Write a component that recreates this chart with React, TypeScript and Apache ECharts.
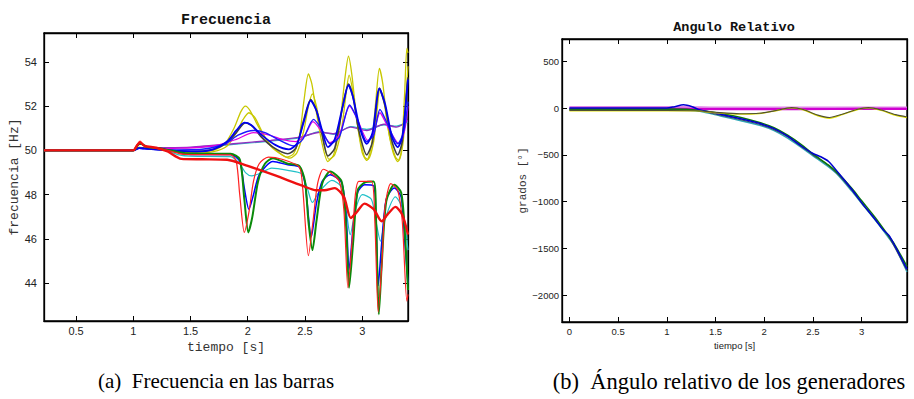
import React, { useEffect, useRef } from "react";
import * as echarts from "echarts";

// ---------- Left plot: frequency [Hz] vs time [s] ----------
const freqTicksX = [0.5, 1, 1.5, 2, 2.5, 3];
const freqTicksY = [44, 46, 48, 50, 52, 54];

const freqYellowA = [[0.22,50],[1.0,50],[1.05,50.15],[1.1,50.1],[1.3,50.02],[1.5,49.92],[1.7,50.0],[1.8,50.3],[1.88,51.0],[1.94,51.75],[1.98,52.0],[2.02,51.8],[2.08,51.2],[2.16,50.5],[2.25,50.0],[2.34,49.7],[2.4,49.85],[2.45,50.6],[2.49,52.2],[2.53,53.45],[2.56,53.0],[2.6,51.7],[2.65,50.3],[2.7,49.5],[2.75,49.8],[2.8,51.0],[2.85,53.3],[2.88,54.25],[2.91,53.4],[2.95,51.5],[3.0,49.9],[3.04,49.55],[3.08,50.2],[3.12,52.3],[3.15,53.7],[3.18,53.0],[3.22,51.2],[3.27,49.9],[3.31,49.5],[3.34,49.9],[3.37,52.5],[3.39,54.6],[3.4,54.4]];
const freqYellowB = [[0.22,50],[1.0,50],[1.05,50.12],[1.1,50.1],[1.3,50.0],[1.5,49.88],[1.7,49.95],[1.82,50.2],[1.9,50.8],[1.96,51.4],[2.01,51.7],[2.06,51.5],[2.12,50.9],[2.2,50.2],[2.3,49.8],[2.37,49.65],[2.43,49.9],[2.49,50.9],[2.53,52.0],[2.565,52.55],[2.6,52.0],[2.65,50.7],[2.71,49.6],[2.76,49.8],[2.82,51.0],[2.86,52.6],[2.885,53.4],[2.92,52.6],[2.97,50.8],[3.02,49.7],[3.05,49.6],[3.1,50.4],[3.13,51.8],[3.155,52.8],[3.19,52.2],[3.24,50.6],[3.29,49.7],[3.32,49.55],[3.36,50.5],[3.39,53.0],[3.4,53.8]];
const freqGray = [[0.22,50],[1.0,50],[1.05,50.12],[1.1,50.1],[1.3,50.02],[1.5,49.95],[1.7,50.05],[1.82,50.35],[1.9,50.8],[1.98,51.25],[2.04,51.1],[2.12,50.6],[2.22,50.15],[2.35,49.85],[2.42,50.1],[2.48,51.2],[2.55,52.3],[2.6,51.8],[2.65,50.7],[2.7,49.75],[2.76,50.1],[2.83,52.0],[2.88,53.0],[2.92,52.4],[2.97,50.9],[3.04,49.8],[3.09,50.4],[3.15,52.8],[3.2,52.0],[3.26,50.4],[3.31,49.8],[3.35,50.4],[3.39,52.8],[3.4,53.3]];
const freqBlueA = [[0.22,50],[1.0,50],[1.05,50.1],[1.1,50.08],[1.3,50.0],[1.55,49.95],[1.7,50.05],[1.82,50.4],[1.9,50.9],[1.97,51.25],[2.03,51.15],[2.12,50.7],[2.24,50.25],[2.36,50.05],[2.43,50.3],[2.49,51.3],[2.55,52.25],[2.6,51.8],[2.65,50.9],[2.7,50.15],[2.76,50.5],[2.83,52.0],[2.88,52.95],[2.92,52.4],[2.98,51.0],[3.04,50.3],[3.09,50.8],[3.15,52.8],[3.2,52.1],[3.26,50.6],[3.31,50.15],[3.35,50.6],[3.39,52.6],[3.4,53.2]];
const freqBlueB = [[0.22,50],[1.0,50],[1.05,50.1],[1.1,50.08],[1.3,50.02],[1.6,50.05],[1.8,50.3],[1.92,50.7],[2.05,50.9],[2.15,50.8],[2.28,50.45],[2.4,50.2],[2.48,50.5],[2.575,51.4],[2.64,51.0],[2.72,50.3],[2.8,50.6],[2.89,52.05],[2.95,51.5],[3.04,50.4],[3.1,50.7],[3.155,51.85],[3.22,51.2],[3.31,50.3],[3.36,50.8],[3.4,52.2]];
const freqMagenta = [[0.22,50],[1.0,50],[1.05,50.1],[1.1,50.08],[1.4,50.1],[1.7,50.2],[1.9,50.5],[2.05,50.8],[2.18,50.7],[2.3,50.5],[2.42,50.4],[2.5,50.7],[2.57,51.3],[2.64,50.9],[2.72,50.35],[2.8,50.7],[2.89,52.0],[2.95,51.5],[3.05,50.45],[3.1,50.8],[3.155,51.7],[3.22,51.1],[3.32,50.3],[3.37,50.9],[3.4,52.0]];
const freqPurple = [[0.22,50],[1.0,50],[1.05,50.1],[1.2,50.12],[1.5,50.15],[1.875,50.3],[2.2,50.45],[2.46,50.6],[2.63,50.82],[2.75,50.75],[2.9,51.05],[3.04,50.9],[3.19,51.18],[3.3,51.05],[3.4,51.35]];
const freqCyanUp = [[0.22,50],[1.0,50],[1.05,50.1],[1.2,50.1],[1.5,50.12],[1.9,50.28],[2.2,50.42],[2.46,50.58],[2.63,50.85],[2.75,50.72],[2.9,51.08],[3.04,50.95],[3.19,51.15],[3.3,51.1],[3.4,51.3]];
const freqCyanLow = [[0.22,50],[1.0,50],[1.04,50.25],[1.07,50.3],[1.12,50.15],[1.25,50.05],[1.4,49.8],[1.5,49.74],[1.85,49.72],[1.93,49.4],[1.98,49.0],[2.035,48.85],[2.1,48.95],[2.21,49.2],[2.35,49.1],[2.47,48.95],[2.52,48.3],[2.565,47.65],[2.62,48.1],[2.735,48.65],[2.82,48.35],[2.86,47.3],[2.895,46.2],[2.94,47.3],[3.0,48.0],[3.08,47.8],[3.12,46.8],[3.16,45.9],[3.2,46.9],[3.29,47.9],[3.35,47.4],[3.4,45.5]];
const freqBlueLow = [[0.22,50],[1.0,50],[1.04,50.25],[1.07,50.3],[1.12,50.15],[1.25,50.08],[1.4,49.9],[1.5,49.82],[1.85,49.82],[1.93,49.5],[1.97,48.3],[2.01,47.35],[2.05,48.0],[2.1,48.9],[2.22,49.5],[2.35,49.35],[2.45,49.25],[2.5,48.5],[2.555,46.1],[2.6,47.6],[2.65,48.6],[2.72,48.9],[2.82,48.55],[2.86,47.0],[2.885,44.6],[2.92,46.5],[2.96,48.1],[3.02,48.45],[3.1,48.4],[3.12,47.0],[3.14,43.9],[3.17,45.8],[3.21,47.8],[3.28,48.3],[3.34,47.9],[3.37,46.0],[3.4,44.0]];
const freqGreen = [[0.22,50],[1.0,50],[1.04,50.25],[1.07,50.3],[1.12,50.15],[1.25,50.08],[1.4,49.92],[1.5,49.86],[1.85,49.85],[1.93,49.6],[1.97,47.8],[2.005,46.3],[2.04,47.0],[2.09,48.6],[2.15,49.4],[2.22,49.65],[2.35,49.4],[2.45,49.3],[2.5,48.6],[2.53,46.8],[2.565,45.5],[2.6,46.8],[2.65,48.5],[2.72,49.05],[2.82,48.6],[2.86,46.5],[2.885,43.8],[2.92,45.8],[2.96,48.2],[3.02,48.55],[3.1,48.6],[3.12,47.0],[3.145,42.6],[3.17,44.8],[3.21,47.7],[3.28,48.45],[3.34,48.1],[3.37,46.5],[3.4,43.7]];
const freqRedThin = [[0.22,50],[1.0,50],[1.03,50.25],[1.06,50.42],[1.1,50.2],[1.2,50.1],[1.3,50.0],[1.45,49.82],[1.85,49.8],[1.9,49.5],[1.93,48.0],[1.97,46.3],[2.01,47.2],[2.05,48.6],[2.1,49.4],[2.18,49.7],[2.3,49.6],[2.45,49.25],[2.48,48.3],[2.53,45.25],[2.57,46.8],[2.61,48.5],[2.66,49.15],[2.72,49.0],[2.8,48.6],[2.84,47.3],[2.875,43.8],[2.91,45.8],[2.94,48.0],[2.97,48.6],[3.08,48.6],[3.11,46.8],[3.14,42.7],[3.17,44.7],[3.2,47.5],[3.25,48.5],[3.31,48.2],[3.35,46.8],[3.39,43.2],[3.4,43.5]];
const freqRedThick = [[0.22,50],[1.0,50],[1.03,50.2],[1.06,50.35],[1.1,50.2],[1.2,50.12],[1.3,49.95],[1.42,49.62],[1.6,49.6],[1.82,49.58],[2.0,49.3],[2.24,48.87],[2.47,48.42],[2.6,48.2],[2.67,48.2],[2.76,48.3],[2.84,47.9],[2.9,46.95],[2.95,47.2],[3.02,47.6],[3.1,47.35],[3.17,46.8],[3.22,47.1],[3.29,47.45],[3.35,47.1],[3.4,46.2]];

// ---------- Right plot: relative angle [deg] vs time [s] ----------
const angTicksX = [0, 0.5, 1, 1.5, 2, 2.5, 3];
const angTicksY = [-2000, -1500, -1000, -500, 0, 500];

const angBlue = [[0,0],[1.0,0],[1.08,15],[1.17,35],[1.26,15],[1.34,-20],[1.55,-65],[1.76,-115],[1.97,-170],[2.1,-220],[2.24,-300],[2.38,-405],[2.5,-485],[2.58,-520],[2.66,-570],[2.76,-690],[2.9,-870],[3.0,-1010],[3.14,-1190],[3.22,-1300],[3.28,-1360],[3.34,-1470],[3.465,-1720]];
const angGreen = [[0,-10],[1.0,-10],[1.2,-12],[1.34,-25],[1.55,-55],[1.76,-100],[1.97,-160],[2.1,-210],[2.24,-290],[2.38,-390],[2.5,-490],[2.66,-610],[2.76,-700],[2.9,-860],[3.0,-990],[3.14,-1170],[3.28,-1370],[3.34,-1460],[3.465,-1690]];
const angTeal = [[0,-20],[1.0,-20],[1.2,-22],[1.34,-35],[1.55,-85],[1.76,-135],[1.97,-190],[2.1,-240],[2.24,-320],[2.38,-420],[2.5,-510],[2.66,-630],[2.76,-720],[2.9,-890],[3.0,-1020],[3.14,-1200],[3.28,-1390],[3.34,-1480],[3.465,-1750]];
const angSlate = [[0,-15],[1.0,-15],[1.34,-30],[1.55,-75],[1.76,-125],[1.97,-180],[2.1,-230],[2.24,-305],[2.38,-410],[2.5,-500],[2.66,-615],[2.76,-710],[2.9,-880],[3.0,-1015],[3.14,-1195],[3.28,-1380],[3.465,-1735]];
const angOlive = [[0,-25],[1.0,-25],[1.3,-28],[1.5,-45],[1.75,-60],[1.95,-55],[2.1,-30],[2.28,5],[2.4,-15],[2.55,-75],[2.67,-100],[2.8,-65],[2.95,-15],[3.07,5],[3.2,-20],[3.35,-70],[3.465,-95]];
const angYellow = [[0,-28],[1.0,-28],[1.3,-30],[1.5,-50],[1.75,-65],[1.95,-58],[2.1,-32],[2.28,2],[2.4,-18],[2.55,-82],[2.67,-108],[2.8,-70],[2.95,-18],[3.07,2],[3.2,-25],[3.35,-78],[3.465,-100]];
const angMagenta = [[0,-8],[1.0,-8],[1.3,-10],[2.0,-12],[2.7,-10],[3.465,-8]];
const angPink = [[0,5],[1.2,5],[1.5,0],[2.5,2],[3.465,0]];

const MONO = "'Liberation Mono', 'DejaVu Sans Mono', monospace";
const SANS = "'Liberation Sans', Arial, sans-serif";
const SERIF = "'Liberation Serif', 'Times New Roman', serif";

function line(name: string, data: number[][], color: string, width: number, gi: number) {
  return {
    name,
    type: "line",
    xAxisIndex: gi * 2,
    yAxisIndex: gi * 2,
    data,
    showSymbol: false,
    symbol: "none",
    smooth: 0.25,
    lineStyle: { color, width },
    itemStyle: { color },
    z: 3,
  };
}

function axesFor(gi: number, xmin: number, xmax: number, ymin: number, ymax: number,
  xt: number[], yt: number[], labelSize: number, xl: any, yl: any, xMargin: number, yMargin: number) {
  const axLine = { show: true, onZero: false, lineStyle: { color: "#000", width: 1.3 } };
  const tick = (vals: number[]) => ({ show: true, inside: true, length: 5, customValues: vals, lineStyle: { color: "#000", width: 1 } });
  const lbl = (vals: number[], margin: number) => ({
    show: true, customValues: vals, fontSize: labelSize, color: "#222", fontFamily: SANS, margin,
    formatter: (v: number) => String(v).replace("-", "\u2212"),
  });
  const xAxes = [
    { type: "value", gridIndex: gi, min: xmin, max: xmax, position: "bottom", axisLine: axLine, axisTick: tick(xt), axisLabel: lbl(xt, xMargin), splitLine: { show: false }, ...xl },
    { type: "value", gridIndex: gi, min: xmin, max: xmax, position: "top", axisLine: axLine, axisTick: tick(xt), axisLabel: { show: false }, splitLine: { show: false } },
  ];
  const yAxes = [
    { type: "value", gridIndex: gi, min: ymin, max: ymax, position: "left", axisLine: axLine, axisTick: tick(yt), axisLabel: lbl(yt, yMargin), splitLine: { show: false }, ...yl },
    { type: "value", gridIndex: gi, min: ymin, max: ymax, position: "right", axisLine: axLine, axisTick: tick(yt), axisLabel: { show: false }, splitLine: { show: false } },
  ];
  return { xAxes, yAxes };
}

export default function App() {
  const ref = useRef<HTMLDivElement>(null);
  useEffect(() => {
    const chart = echarts.init(ref.current!, null, { renderer: "svg" });
    const a = axesFor(0, 0.22, 3.4, 42.3, 55.3, freqTicksX, freqTicksY, 11,
      { name: "tiempo [s]", nameLocation: "middle", nameGap: 17, nameTextStyle: { fontFamily: MONO, fontSize: 13, color: "#333" } },
      { name: "frecuencia [Hz]", nameLocation: "middle", nameGap: 18, nameTextStyle: { fontFamily: MONO, fontSize: 13, color: "#333" } },
      4, 7);
    const b = axesFor(1, -0.076, 3.465, -2285, 738, angTicksX, angTicksY, 9.5,
      { name: "tiempo [s]", nameLocation: "middle", nameGap: 16, nameTextStyle: { fontFamily: SANS, fontSize: 9.5, color: "#222" } },
      { name: "grados [\u00b0]", nameLocation: "middle", nameGap: 34, nameTextStyle: { fontFamily: MONO, fontSize: 11, color: "#333" } },
      4, 3);
    const option = {
      animation: false,
      backgroundColor: "#fff",
      grid: [
        { left: 44, top: 33, width: 364, height: 288, show: true, borderColor: "#000", borderWidth: 1.3, backgroundColor: "transparent" },
        { left: 562, top: 39, width: 345, height: 283, show: true, borderColor: "#000", borderWidth: 1.3, backgroundColor: "transparent" },
      ],
      xAxis: [...a.xAxes, ...b.xAxes],
      yAxis: [...a.yAxes, ...b.yAxes],
      series: [
        line("cyanUp", freqCyanUp, "#20c0c0", 1.2, 0),
        line("purple", freqPurple, "#9030c0", 1.4, 0),
        line("yellowB", freqYellowB, "#c8c800", 1.3, 0),
        line("yellowA", freqYellowA, "#c8c800", 1.3, 0),
        line("gray", freqGray, "#404040", 1.6, 0),
        line("magenta", freqMagenta, "#e000e0", 1.3, 0),
        line("blueB", freqBlueB, "#1a1aff", 1.4, 0),
        line("blueA", freqBlueA, "#0000ee", 1.8, 0),
        line("cyanLow", freqCyanLow, "#20c0c8", 1.2, 0),
        line("blueLow", freqBlueLow, "#0000ff", 1.5, 0),
        line("green", freqGreen, "#0a8a0a", 2.0, 0),
        line("redThin", freqRedThin, "#ff2020", 1.2, 0),
        line("redThick", freqRedThick, "#ee1010", 2.4, 0),

        line("angPink", angPink, "#e080e8", 3, 1),
        line("angMagenta", angMagenta, "#d000d0", 2.2, 1),
        line("angTeal", angTeal, "#30a8b8", 1.4, 1),
        line("angSlate", angSlate, "#405060", 1.2, 1),
        line("angGreen", angGreen, "#0a7a0a", 1.5, 1),
        line("angBlue", angBlue, "#0000d0", 1.5, 1),
        line("angYellow", angYellow, "#e0e000", 1.4, 1),
        line("angOlive", angOlive, "#505030", 1.1, 1),
      ],
      graphic: [
        { type: "text", x: 226, y: 20, style: { text: "Frecuencia", font: `bold 15px ${MONO}`, fill: "#111", textAlign: "center", textVerticalAlign: "middle" } },
        { type: "text", x: 734, y: 27, style: { text: "Angulo Relativo", font: `bold 13.5px ${MONO}`, fill: "#111", textAlign: "center", textVerticalAlign: "middle" } },
        { type: "text", x: 216, y: 381, style: { text: "(a)  Frecuencia en las barras", font: `21px ${SERIF}`, fill: "#000", textAlign: "center", textVerticalAlign: "middle" } },
        { type: "text", x: 729, y: 381, style: { text: "(b)  \u00c1ngulo relativo de los generadores", font: `22.5px ${SERIF}`, fill: "#000", textAlign: "center", textVerticalAlign: "middle" } },
      ],
    };
    chart.setOption(option as any);
    return () => chart.dispose();
  }, []);
  return <div ref={ref} style={{ position: "fixed", left: 0, top: 0, width: 914, height: 399 }} />;
}
